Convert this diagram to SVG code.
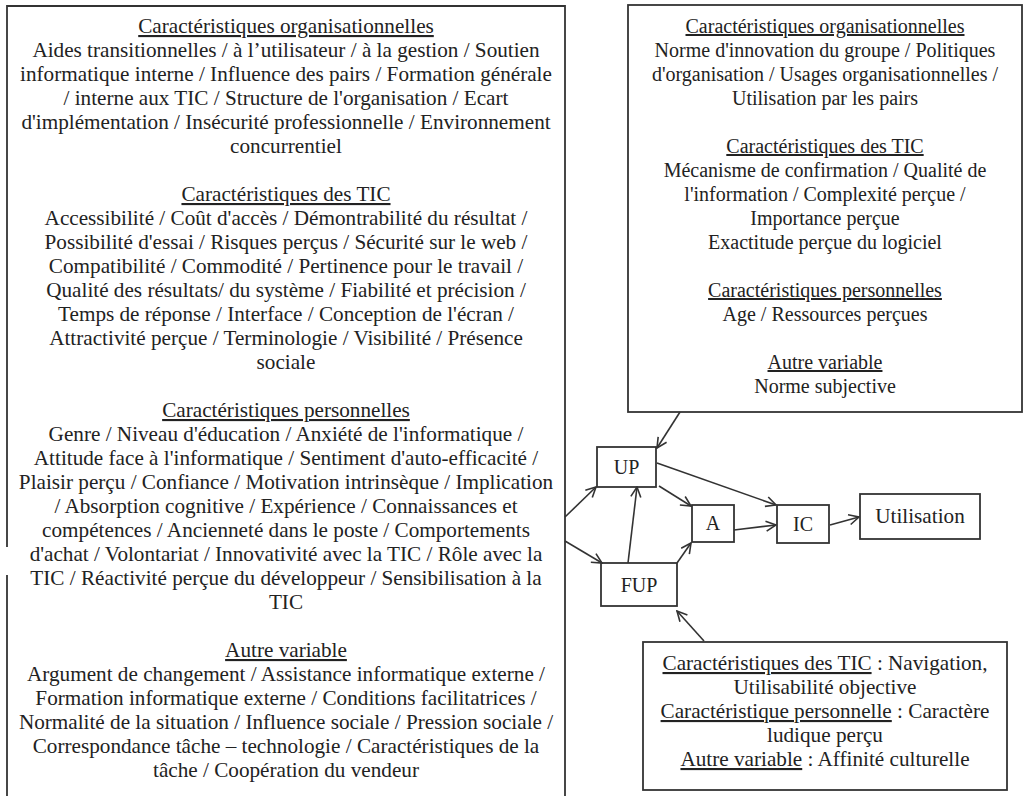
<svg xmlns="http://www.w3.org/2000/svg" width="1025" height="796" viewBox="0 0 1025 796">
<style>
.bx{fill:none;stroke:#333;stroke-width:1.8}
.t{font-family:"Liberation Serif","Times New Roman",serif;font-size:20px;fill:#222;text-anchor:middle}
.l{font-size:21.2px}
.h{text-decoration:underline}
.u{text-decoration:underline}
.c line{stroke:#333;stroke-width:1.6;marker-end:url(#ah)}
</style>
<defs>
<marker id="ah" viewBox="0 0 12 12" refX="11" refY="6" markerWidth="12" markerHeight="12" markerUnits="userSpaceOnUse" orient="auto">
<path d="M1,1 L11,6 L1,11" fill="none" stroke="#333" stroke-width="1.6"/>
</marker>
</defs>
<rect width="1025" height="796" fill="#fff"/>

<g id="left-box">
<path class="bx" d="M7,547 V6 H565 V800 M7,575 V800"/>
<text class="t l" x="286" y="33"><tspan class="h">Caractéristiques organisationnelles</tspan></text>
<text class="t l" x="286" y="57">Aides transitionnelles / à l’utilisateur / à la gestion / Soutien</text>
<text class="t l" x="286" y="81">informatique interne / Influence des pairs / Formation générale</text>
<text class="t l" x="286" y="105">/ interne aux TIC / Structure de l'organisation / Ecart</text>
<text class="t l" x="286" y="129">d'implémentation / Insécurité professionnelle / Environnement</text>
<text class="t l" x="286" y="153">concurrentiel</text>
<text class="t l" x="286" y="201"><tspan class="h">Caractéristiques des TIC</tspan></text>
<text class="t l" x="286" y="225">Accessibilité / Coût d'accès / Démontrabilité du résultat /</text>
<text class="t l" x="286" y="249">Possibilité d'essai / Risques perçus / Sécurité sur le web /</text>
<text class="t l" x="286" y="273">Compatibilité / Commodité / Pertinence pour le travail /</text>
<text class="t l" x="286" y="297">Qualité des résultats/ du système / Fiabilité et précision /</text>
<text class="t l" x="286" y="321">Temps de réponse / Interface / Conception de l'écran /</text>
<text class="t l" x="286" y="345">Attractivité perçue / Terminologie / Visibilité / Présence</text>
<text class="t l" x="286" y="369">sociale</text>
<text class="t l" x="286" y="417"><tspan class="h">Caractéristiques personnelles</tspan></text>
<text class="t l" x="286" y="441">Genre / Niveau d'éducation / Anxiété de l'informatique /</text>
<text class="t l" x="286" y="465">Attitude face à l'informatique / Sentiment d'auto-efficacité /</text>
<text class="t l" x="286" y="489">Plaisir perçu / Confiance / Motivation intrinsèque / Implication</text>
<text class="t l" x="286" y="513">/ Absorption cognitive / Expérience / Connaissances et</text>
<text class="t l" x="286" y="537">compétences / Ancienneté dans le poste / Comportements</text>
<text class="t l" x="286" y="561">d'achat / Volontariat / Innovativité avec la TIC / Rôle avec la</text>
<text class="t l" x="286" y="585">TIC / Réactivité perçue du développeur / Sensibilisation à la</text>
<text class="t l" x="286" y="609">TIC</text>
<text class="t l" x="286" y="657"><tspan class="h">Autre variable</tspan></text>
<text class="t l" x="286" y="681">Argument de changement / Assistance informatique externe /</text>
<text class="t l" x="286" y="705">Formation informatique externe / Conditions facilitatrices /</text>
<text class="t l" x="286" y="729">Normalité de la situation / Influence sociale / Pression sociale /</text>
<text class="t l" x="286" y="753">Correspondance tâche – technologie / Caractéristiques de la</text>
<text class="t l" x="286" y="777">tâche / Coopération du vendeur</text>
</g>

<g id="right-box">
<rect class="bx" x="628" y="5" width="394" height="407"/>
<text class="t" x="825" y="33"><tspan class="h">Caractéristiques organisationnelles</tspan></text>
<text class="t" x="825" y="57">Norme d'innovation du groupe / Politiques</text>
<text class="t" x="825" y="81">d'organisation / Usages organisationnelles /</text>
<text class="t" x="825" y="105">Utilisation par les pairs</text>
<text class="t" x="825" y="153"><tspan class="h">Caractéristiques des TIC</tspan></text>
<text class="t" x="825" y="177">Mécanisme de confirmation / Qualité de</text>
<text class="t" x="825" y="201">l'information / Complexité perçue /</text>
<text class="t" x="825" y="225">Importance perçue</text>
<text class="t" x="825" y="249">Exactitude perçue du logiciel</text>
<text class="t" x="825" y="297"><tspan class="h">Caractéristiques personnelles</tspan></text>
<text class="t" x="825" y="321">Age / Ressources perçues</text>
<text class="t" x="825" y="369"><tspan class="h">Autre variable</tspan></text>
<text class="t" x="825" y="393">Norme subjective</text>
</g>

<g id="UP">
<rect class="bx" x="597" y="447" width="59" height="40"/>
<text class="t" x="626.5" y="474">UP</text>
</g>
<g id="FUP">
<rect class="bx" x="601" y="563" width="76" height="43"/>
<text class="t" x="639" y="592">FUP</text>
</g>
<g id="A">
<rect class="bx" x="692" y="505" width="42" height="37"/>
<text class="t" x="713" y="530">A</text>
</g>
<g id="IC">
<rect class="bx" x="777" y="505" width="52" height="38"/>
<text class="t" x="803" y="531">IC</text>
</g>
<g id="Utilisation">
<rect class="bx" x="860" y="494" width="120" height="45"/>
<text class="t l" x="920" y="523">Utilisation</text>
</g>

<g id="bottom-box">
<rect class="bx" x="643" y="642" width="364" height="148"/>
<text class="t l" x="825" y="670"><tspan class="u">Caractéristiques des TIC</tspan> : Navigation,</text>
<text class="t l" x="825" y="694">Utilisabilité objective</text>
<text class="t l" x="825" y="718"><tspan class="u">Caractéristique personnelle</tspan> : Caractère</text>
<text class="t l" x="825" y="742">ludique perçu</text>
<text class="t l" x="825" y="766"><tspan class="u">Autre variable</tspan> : Affinité culturelle</text>
</g>

<g id="connectors" class="c">
<line x1="680" y1="412" x2="657" y2="448"/>
<line x1="565" y1="517" x2="596" y2="487"/>
<line x1="565" y1="541" x2="602" y2="563"/>
<line x1="628" y1="563" x2="637" y2="487"/>
<line x1="659" y1="486" x2="691" y2="506"/>
<line x1="677" y1="563" x2="691" y2="543"/>
<line x1="657" y1="463" x2="776" y2="505"/>
<line x1="734" y1="530" x2="776" y2="525"/>
<line x1="830" y1="525" x2="859" y2="517"/>
<line x1="704" y1="641" x2="677" y2="611"/>
</g>
</svg>
